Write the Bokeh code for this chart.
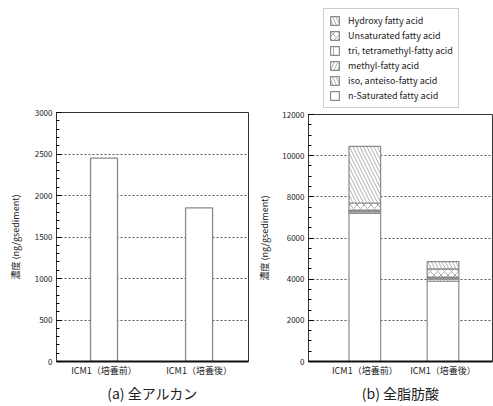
from bokeh.plotting import figure
from bokeh.models import Range1d, FixedTicker, Legend, LegendItem, ColumnDataSource
from bokeh.layouts import row, column
from bokeh.embed import file_html
from bokeh.resources import INLINE

categories = ["ICM1（培養前）", "ICM1（培養後）"]
alkane_total = [2450, 1850]

fa_n_saturated = [7200, 3900]
fa_iso_anteiso = [80, 100]
fa_methyl = [40, 50]
fa_tri_tetramethyl = [30, 50]
fa_unsaturated = [350, 400]
fa_hydroxy = [2750, 350]

legend_labels = ["n-Saturated fatty acid", "iso, anteiso-fatty acid", "methyl-fatty acid",
                 "tri, tetramethyl-fatty acid", "Unsaturated fatty acid", "Hydroxy fatty acid"]

FONT = "Noto Sans CJK JP"
TXT = "#222222"
BAR_LINE = "#8a8a8a"


def style(p, major, minor_n, label_standoff):
    p.outline_line_color = "#333333"
    p.outline_line_width = 1
    p.xgrid.visible = False
    p.ygrid.grid_line_color = "#555555"
    p.ygrid.grid_line_dash = "2 2"
    p.ygrid.grid_line_width = 1
    p.ygrid.ticker = FixedTicker(ticks=list(range(0, 20001, major)))
    ya = p.yaxis[0]
    ya.ticker = FixedTicker(ticks=list(range(0, 20001, major)),
                            minor_ticks=list(range(0, 20001, major // minor_n)))
    ya.major_tick_in = 5
    ya.major_tick_out = 0
    ya.minor_tick_in = 3
    ya.minor_tick_out = 0
    ya.axis_line_color = "#333333"
    ya.major_label_text_font = FONT
    ya.major_label_text_font_size = "8px"
    ya.major_label_text_color = TXT
    ya.major_label_standoff = 4
    ya.axis_label = "濃度 (ng/gsediment)"
    ya.axis_label_text_font = FONT
    ya.axis_label_text_font_size = "9px"
    ya.axis_label_text_font_style = "normal"
    ya.axis_label_text_color = TXT
    ya.axis_label_standoff = label_standoff
    xa = p.xaxis[0]
    xa.ticker = FixedTicker(ticks=[0, 1])
    xa.major_label_overrides = {0: categories[0], 1: categories[1]}
    xa.major_tick_in = 0
    xa.major_tick_out = 0
    xa.minor_tick_line_color = None
    xa.axis_line_color = "#111111"
    xa.axis_line_width = 2
    xa.major_label_text_font = FONT
    xa.major_label_text_font_size = "9px"
    xa.major_label_text_color = TXT
    xa.major_label_standoff = 2
    xa.axis_label_text_font = FONT
    xa.axis_label_text_font_size = "14px"
    xa.axis_label_text_font_style = "normal"
    xa.axis_label_text_color = TXT
    xa.axis_label_standoff = 3


# (a) total alkanes
p1 = figure(width=255, height=406, output_backend="svg", toolbar_location=None,
            x_range=Range1d(-0.5, 1.52), y_range=Range1d(0, 3000),
            min_border_left=56, min_border_right=7, min_border_top=112, min_border_bottom=45)
style(p1, 500, 5, 10)
p1.xaxis[0].axis_label = "(a) 全アルカン"
p1.vbar(x=[0, 1], top=alkane_total, width=0.284, fill_color="white",
        line_color=BAR_LINE, line_width=1.3)

# (b) total fatty acids
p2 = figure(width=238, height=296, output_backend="svg", toolbar_location=None,
            x_range=Range1d(-0.72, 1.633), y_range=Range1d(0, 12000),
            min_border_left=49, min_border_right=1, min_border_top=4, min_border_bottom=45)
style(p2, 2000, 4, 8)
p2.xaxis[0].axis_label = "(b) 全脂肪酸"

keys = ["n_sat", "iso", "methyl", "tri", "unsat", "hydroxy"]
src = ColumnDataSource(dict(x=[0, 1], n_sat=fa_n_saturated, iso=fa_iso_anteiso,
                            methyl=fa_methyl, tri=fa_tri_tetramethyl,
                            unsat=fa_unsaturated, hydroxy=fa_hydroxy))
bar_kw = dict(x="x", width=0.405, source=src, fill_color="white",
              line_color=BAR_LINE, line_width=1.2,
              hatch_pattern=[" ", "\\", "/", "|", "x", "\\"],
              hatch_color="#9a9a9a", hatch_weight=0.8, hatch_scale=7)
p2.vbar_stack(keys, **bar_kw)

# legend panel above (b); its bar copies lie outside the visible ranges
pl = figure(width=238, height=110, output_backend="svg", toolbar_location=None,
            x_range=Range1d(50, 60), y_range=Range1d(50000, 60000),
            x_axis_location=None, y_axis_location=None,
            min_border_left=49, min_border_right=1, min_border_top=0, min_border_bottom=0)
pl.grid.visible = False
pl.outline_line_color = None
rs = pl.vbar_stack(keys, **bar_kw)
items = [LegendItem(label=lab, renderers=[r]) for lab, r in zip(legend_labels, rs)][::-1]
leg = Legend(items=items, location=(15, 2), orientation="vertical",
             label_text_font=FONT, label_text_font_size="9px", label_text_color=TXT,
             glyph_width=11, glyph_height=11, label_height=11, spacing=2,
             padding=5, margin=0, label_standoff=8,
             border_line_color="#999999", border_line_width=1.2,
             background_fill_color="white", background_fill_alpha=1)
pl.add_layout(leg, "center")

layout = row(p1, column(pl, p2))
open("out.html", "w").write(file_html(layout, INLINE))
